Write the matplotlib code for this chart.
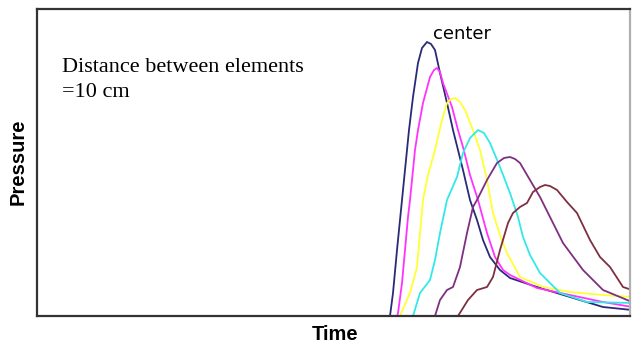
import matplotlib
matplotlib.use("Agg")
import matplotlib.pyplot as plt

# Pressure traces at successive elements (arbitrary units)
t_center = [353, 356, 360, 365, 370, 372, 376, 381, 385, 390, 394, 398, 403, 410,
            416, 421, 426, 433, 440, 446, 453, 463, 473, 500, 533, 566, 595]
p_center = [0, 23, 66, 116, 166, 186, 219, 253, 268, 274, 272, 266, 243, 213,
            186, 166, 146, 116, 96, 76, 59, 46, 38, 29, 19, 9, 6]

t_e1 = [360, 361, 365, 368, 371, 373, 378, 381, 386, 393, 397, 400, 403, 406,
        415, 421, 426, 433, 441, 450, 458, 466, 473, 500, 533, 566, 595]
p_e1 = [0, 3, 33, 66, 99, 116, 166, 186, 213, 239, 246, 248, 244, 233,
        209, 186, 169, 141, 116, 83, 59, 46, 41, 28, 21, 14, 9]

t_e2 = [363, 373, 380, 383, 386, 391, 398, 401, 405, 410, 414, 418, 423, 428,
        436, 443, 450, 456, 463, 470, 483, 506, 533, 566, 595]
p_e2 = [0, 23, 49, 83, 116, 141, 166, 179, 196, 213, 217, 218, 214, 206,
        186, 166, 136, 103, 81, 63, 39, 29, 24, 21, 19]

t_e3 = [376, 383, 393, 398, 403, 410, 420, 426, 433, 441, 447, 453, 463, 473,
        481, 486, 493, 503, 523, 550, 595]
p_e3 = [0, 23, 36, 56, 83, 116, 139, 163, 178, 186, 183, 173, 149, 123,
        99, 79, 61, 43, 23, 14, 13]

t_e4 = [398, 403, 410, 416, 423, 430, 436, 440, 450, 460, 467, 473, 478, 483,
        493, 503, 513, 526, 546, 566, 595]
p_e4 = [0, 16, 26, 29, 49, 83, 109, 116, 136, 153, 158, 159, 157, 153,
        136, 119, 99, 73, 46, 26, 14]

t_e5 = [421, 431, 440, 450, 456, 463, 471, 476, 483, 490, 496, 503, 508, 513,
        520, 530, 540, 553, 563, 573, 586, 595]
p_e5 = [0, 16, 26, 29, 39, 66, 93, 103, 109, 113, 124, 129, 131, 130,
        126, 114, 103, 76, 59, 49, 29, 26]

series = [
    (t_center, p_center, "#2a2a78"),
    (t_e1, p_e1, "#ff33ff"),
    (t_e2, p_e2, "#ffff33"),
    (t_e3, p_e3, "#33e8e8"),
    (t_e4, p_e4, "#7f2f80"),
    (t_e5, p_e5, "#7f2f40"),
]

W, H = 634, 343
fig = plt.figure(figsize=(W / 100, H / 100), dpi=100)
ax = fig.add_axes([37 / W, 27 / H, 593 / W, 307 / H])
ax.set_xlim(0, 593)
ax.set_ylim(0, 307)

for t, p, c in series:
    ax.plot(t, p, color=c, lw=1.3, solid_joinstyle="round", clip_on=True)

ax.set_xticks([])
ax.set_yticks([])
for side in ["left", "bottom", "top"]:
    ax.spines[side].set_color("#333333")
    ax.spines[side].set_linewidth(1.6)
ax.spines["right"].set_color("#b0b0b0")
ax.spines["right"].set_linewidth(1.6)

fig.text(18 / W, 1 - 162 / H, "Pressure", rotation=90, ha="center", va="center",
         fontsize=14.5, fontweight="bold", family="Liberation Sans")
fig.text(335 / W, 1 - 335 / H, "Time", ha="center", va="center",
         fontsize=14.5, fontweight="bold", family="Liberation Sans")

ax.text(25, 236, "Distance between elements\n=10 cm", ha="left", va="center",
        fontsize=16, family="Liberation Serif", linespacing=1.45)
ax.text(396, 307 - 25, "center", ha="left", va="center", fontsize=13,
        family="DejaVu Sans")

fig.savefig("out.png", dpi=100)
